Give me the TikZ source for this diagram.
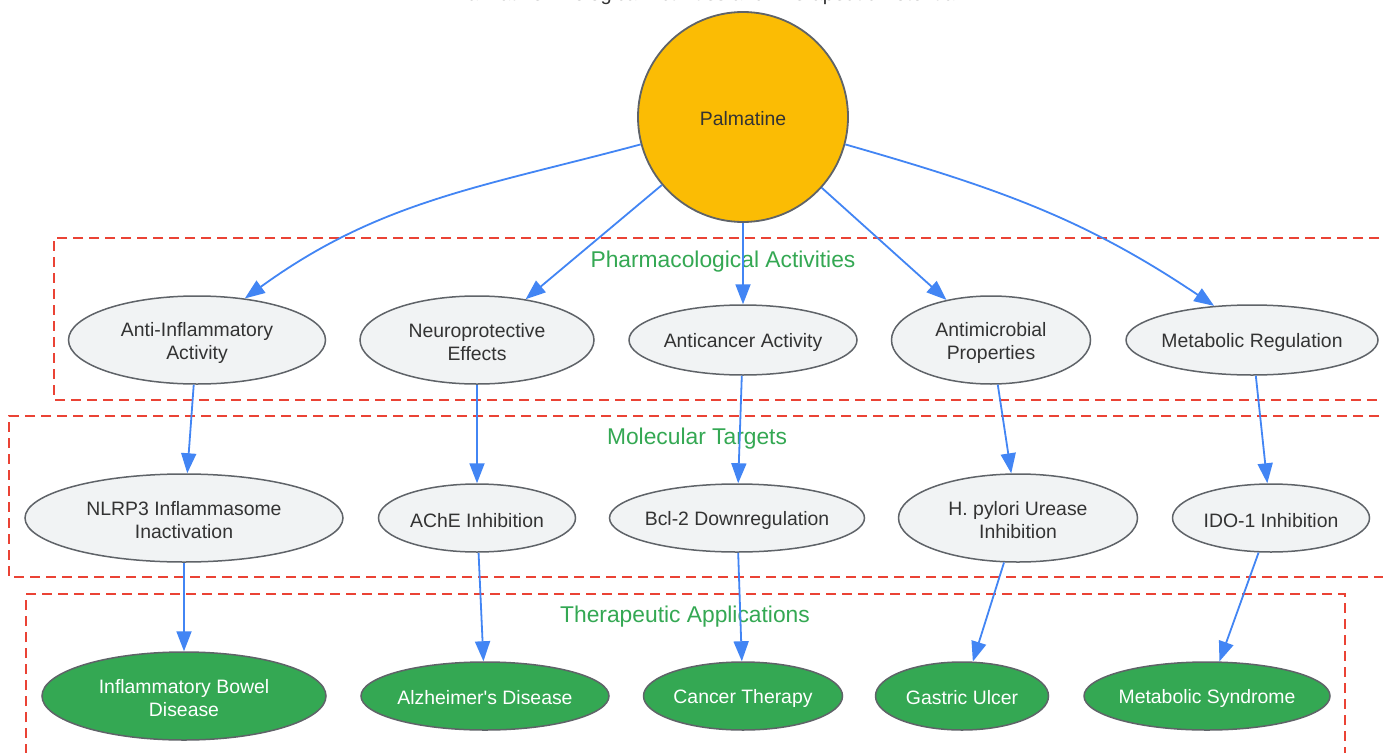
\documentclass[tikz,border=0pt]{standalone}
\usepackage{fontspec}
\setmainfont{Liberation Sans}[Ligatures=TeXOff]
\usetikzlibrary{arrows.meta,shapes.geometric}
\definecolor{palyellow}{HTML}{FBBC04}
\definecolor{bordergray}{HTML}{5F6368}
\definecolor{nodegray}{HTML}{F1F3F4}
\definecolor{tgreen}{HTML}{34A853}
\definecolor{eblue}{HTML}{4285F4}
\definecolor{cred}{HTML}{EA4335}
\definecolor{txtdark}{HTML}{333333}
\newcommand\lbfont{\fontsize{19.4}{23}\selectfont}
\newcommand\clfont{\fontsize{22.8}{27}\selectfont}
\begin{document}
\begin{tikzpicture}[x=1pt,y=-1pt,
  ell/.style={ellipse, draw=bordergray, line width=1.5pt, fill=nodegray, inner sep=0pt},
  grn/.style={ellipse, draw=bordergray, line width=1.5pt, fill=tgreen, inner sep=0pt},
  lbl/.style={font=\lbfont, text=txtdark, align=center, yshift=-2.5pt},
  wlbl/.style={font=\lbfont, text=white, align=center, yshift=-2pt},
  arr/.style={draw=eblue, line width=1.8pt, -{Triangle[length=20pt,width=15pt]}},
  cluster/.style={draw=cred, line width=1.8pt, dash pattern=on 10pt off 6pt},
  clab/.style={font=\clfont, text=tgreen}]
\useasboundingbox (0,0) rectangle (1383,752);
\clip (0,0) rectangle (1383,752);
\fill[white] (0,0) rectangle (1383,752);

% title (cut off at top, as in the reference)
\node[font=\fontsize{20}{24}\selectfont, text=txtdark, anchor=base, inner sep=0pt] (title) at (707,1) {Palmatine: Biological Activities and Therapeutic Potential};

% clusters
\draw[cluster] (1395,238) -- (54,238) -- (54,400) -- (1395,400);
\draw[cluster] (1395,416) -- (9,416) -- (9,577) -- (1395,577);
\draw[cluster] (26,770) -- (26,594) -- (1345,594) -- (1345,770);
\node[clab] (cl1) at (723,262) {Pharmacological Activities};
\node[clab] (cl2) at (697,439) {Molecular Targets};
\node[clab] (cl3) at (685,617) {Therapeutic Applications};

% nodes
\node[circle, draw=bordergray, line width=1.8pt, fill=palyellow, minimum size=210pt, inner sep=0pt] (pal) at (743,117) {};
\node[font=\lbfont, text=txtdark, yshift=-1.5pt] (paltext) at (pal) {Palmatine};

\node[ell, minimum width=257pt, minimum height=88pt, label={[lbl]center:Anti-Inflammatory\\Activity}] (anti) at (197,340) {};
\node[ell, minimum width=234pt, minimum height=88pt, label={[lbl]center:Neuroprotective\\Effects}] (neuro) at (477,340) {};
\node[ell, minimum width=228pt, minimum height=70pt, label={[lbl]center:Anticancer Activity}] (canc) at (743,340) {};
\node[ell, minimum width=199pt, minimum height=88pt, label={[lbl]center:Antimicrobial\\Properties}] (micro) at (991,340) {};
\node[ell, minimum width=252pt, minimum height=70pt, label={[lbl]center:Metabolic Regulation}] (metab) at (1252,340) {};

\node[ell, minimum width=318pt, minimum height=88pt, label={[lbl]center:NLRP3 Inflammasome\\Inactivation}] (nlrp) at (184,518) {};
\node[ell, minimum width=197pt, minimum height=68pt, label={[lbl]center:AChE Inhibition}] (ache) at (477,518) {};
\node[ell, minimum width=255pt, minimum height=68pt, label={[lbl]center:Bcl-2 Downregulation}] (bcl) at (737,518) {};
\node[ell, minimum width=239pt, minimum height=88pt, label={[lbl]center:H. pylori Urease\\Inhibition}] (hpyl) at (1018,518) {};
\node[ell, minimum width=197pt, minimum height=68pt, label={[lbl]center:IDO-1 Inhibition}] (ido) at (1271,518) {};

\node[grn, minimum width=284pt, minimum height=88pt, label={[wlbl]center:Inflammatory Bowel\\Disease}] (ibd) at (184,696) {};
\node[grn, minimum width=248pt, minimum height=68pt, label={[wlbl]center:Alzheimer's Disease}] (alz) at (485,696) {};
\node[grn, minimum width=199pt, minimum height=68pt, label={[wlbl]center:Cancer Therapy}] (ctx) at (743,696) {};
\node[grn, minimum width=173pt, minimum height=68pt, label={[wlbl]center:Gastric Ulcer}] (gast) at (962,696) {};
\node[grn, minimum width=246pt, minimum height=68pt, label={[wlbl]center:Metabolic Syndrome}] (msyn) at (1207,696) {};

% edges
\draw[arr] (pal.195) to[out=195,in=36] (anti.41);
\draw[arr] (pal) -- (neuro);
\draw[arr] (pal) -- (canc);
\draw[arr] (pal) -- (micro);
\draw[arr] (pal.345) to[out=344,in=146] (metab.138);

\draw[arr] (anti) -- (nlrp);
\draw[arr] (neuro) -- (ache);
\draw[arr] (canc) -- (bcl);
\draw[arr] (micro) -- (hpyl);
\draw[arr] (metab) -- (ido);

\draw[arr] (nlrp) -- (ibd);
\draw[arr] (ache) -- (alz);
\draw[arr] (bcl) -- (ctx);
\draw[arr] (hpyl) -- (gast);
\draw[arr] (ido) -- (msyn);
\end{tikzpicture}
\end{document}
